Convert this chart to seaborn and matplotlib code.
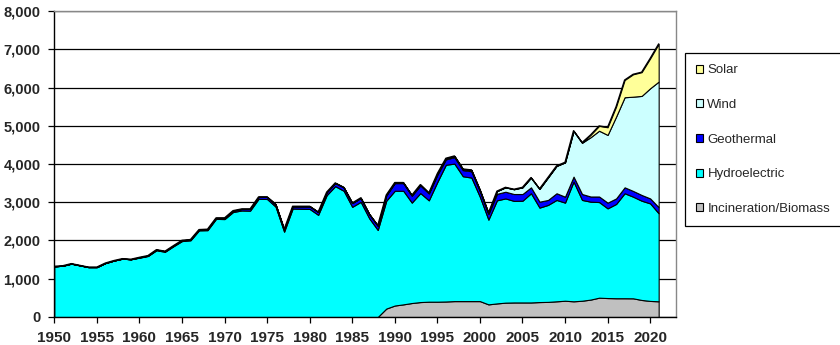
import matplotlib
matplotlib.use("Agg")
import matplotlib.pyplot as plt
from matplotlib.patches import Patch
from matplotlib.ticker import FuncFormatter
import pandas as pd
import seaborn as sns

years = list(range(1950, 2022))

biomass = [0] * 39 + [
    220, 300, 330, 365, 390, 400, 400, 405, 415, 415, 415,
    415, 330, 355, 375, 380, 380, 380, 390, 395, 410,
    425, 410, 425, 455, 505, 495, 490, 490, 488, 445, 420, 410,
]

hydro = [
    1325, 1340, 1395, 1350, 1305, 1305, 1410, 1475, 1525, 1510,
    1550, 1595, 1745, 1705, 1850, 1985, 2005, 2265, 2270, 2565,
    2560, 2745, 2785, 2780, 3090, 3085, 2885, 2230, 2835, 2830,
    2825, 2670, 3185, 3420, 3300, 2880, 3010, 2580, 2275,
    2820, 3000, 2970, 2625, 2850, 2650, 3130, 3575, 3595, 3265, 3230,
    2725, 2215, 2695, 2725, 2655, 2660, 2855, 2470, 2535, 2650,
    2565, 3130, 2635, 2560, 2500, 2345, 2465, 2745, 2657, 2595, 2550, 2300,
]

geothermal = [0] * 10 + [
    10, 10, 15, 15, 15, 20, 20, 20, 25, 25,
    30, 35, 40, 45, 50, 55, 60, 60, 60, 65,
    70, 75, 80, 85, 90, 100, 105, 110, 115,
    140, 200, 200, 180, 200, 180, 190, 140, 170, 160, 165,
    150, 145, 170, 175, 180, 175, 155, 155, 130, 175,
    155, 130, 155, 135, 145, 150, 145, 155, 150, 150, 130, 160,
]

wind = [0] * 39 + [
    10, 15, 15, 15, 20, 15, 30, 30, 30, 30, 35,
    30, 30, 70, 115, 125, 175, 255, 335, 590, 715,
    895, 1195, 1340, 1550, 1720, 1770, 2140, 2355, 2465, 2590, 2880, 3285,
]

solar = [0] * 60 + [5, 5, 5, 60, 125, 200, 260, 450, 585, 620, 780, 985]

series_names = ["Incineration/Biomass", "Hydroelectric", "Geothermal", "Wind", "Solar"]
series_colors = ["#C0C0C0", "#00FFFF", "#0000FF", "#CCFFFF", "#FFFF99"]
y_ticks = list(range(0, 8001, 1000))
x_ticks = list(range(1950, 2021, 5))

df = pd.DataFrame({
    "year": years,
    "Incineration/Biomass": biomass,
    "Hydroelectric": hydro,
    "Geothermal": geothermal,
    "Wind": wind,
    "Solar": solar,
})
df["total"] = df[series_names].sum(axis=1)

sns.set_style("ticks")
plt.rcParams["font.family"] = ["Liberation Sans", "DejaVu Sans"]

fig = plt.figure(figsize=(8.4, 3.45), dpi=100)
ax = fig.add_axes([0.0646, 0.0812, 0.7398, 0.8869])

ax.stackplot(
    df["year"], *[df[n] for n in series_names],
    colors=series_colors, edgecolor="black", linewidth=0.8,
)
sns.lineplot(data=df, x="year", y="total", ax=ax, color="black", linewidth=1.0)

ax.set_xlim(1950, 2023)
ax.set_ylim(0, 8000)
ax.set_xticks(x_ticks)
ax.set_yticks(y_ticks)
ax.yaxis.set_major_formatter(FuncFormatter(lambda v, p: f"{v:,.0f}"))
ax.set_xlabel("")
ax.set_ylabel("")

ax.set_axisbelow(True)
ax.yaxis.grid(True, color="black", linewidth=0.9)
ax.xaxis.grid(False)

for side in ("top", "right"):
    ax.spines[side].set_color("#888888")
    ax.spines[side].set_linewidth(1.0)
for side in ("left", "bottom"):
    ax.spines[side].set_color("black")
    ax.spines[side].set_linewidth(1.0)

ax.tick_params(axis="both", direction="out", length=4, width=0.9, color="black")
ax.tick_params(axis="y", pad=6)
ax.tick_params(axis="x", pad=6)
for lbl in ax.get_yticklabels():
    lbl.set_fontsize(10.5)
    lbl.set_fontweight("bold")
for lbl in ax.get_xticklabels():
    lbl.set_fontsize(11)
    lbl.set_fontweight("bold")

handles = [
    Patch(facecolor=c, edgecolor="black", linewidth=0.8, label=n)
    for n, c in zip(series_names, series_colors)
][::-1]
leg = fig.legend(
    handles=handles,
    loc="upper left",
    bbox_to_anchor=(685 / 840, 1 - 53 / 345),
    borderaxespad=0,
    fontsize=9.5,
    frameon=True,
    fancybox=False,
    framealpha=1,
    edgecolor="black",
    handlelength=0.55,
    handleheight=0.55,
    handletextpad=0.3,
    labelspacing=1.72,
    borderpad=0.85,
)
leg.get_frame().set_linewidth(0.9)

fig.savefig("out.png", dpi=100)
